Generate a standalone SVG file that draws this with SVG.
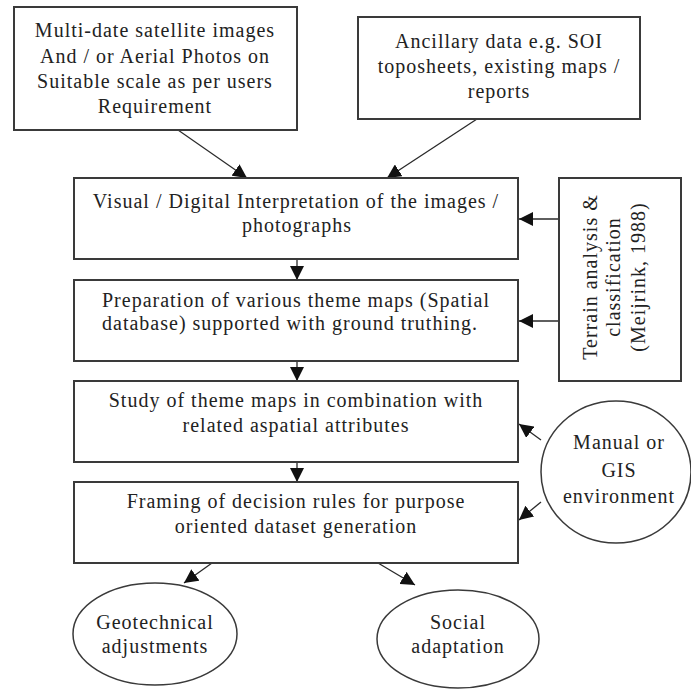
<svg xmlns="http://www.w3.org/2000/svg" width="691" height="689" viewBox="0 0 691 689">
<style>
.box{fill:#fff;stroke:#3a3a3a;stroke-width:2}
.ell{fill:#fff;stroke:#3a3a3a;stroke-width:1.5}
.t{font-family:"Liberation Serif","Times New Roman",serif;font-size:20px;letter-spacing:1px;fill:#222;text-anchor:middle}
.c{stroke:#2a2a2a;stroke-width:1.3;fill:none;marker-end:url(#ah)}
</style>
<defs>
<marker id="ah" markerUnits="userSpaceOnUse" markerWidth="16" markerHeight="14" refX="14" refY="7" orient="auto">
<path d="M0,0 L14,7 L0,14 Z" fill="#111"/>
</marker>
</defs>
<rect width="691" height="689" fill="#fff"/>
<g id="connectors">
<line class="c" x1="178" y1="130" x2="247" y2="178"/>
<line class="c" x1="477" y1="119" x2="387" y2="178"/>
<line class="c" x1="297" y1="259" x2="297" y2="280"/>
<line class="c" x1="297" y1="361" x2="297" y2="381"/>
<line class="c" x1="297" y1="462" x2="297" y2="482"/>
<line class="c" x1="559" y1="219" x2="519" y2="219"/>
<line class="c" x1="559" y1="321" x2="519" y2="321"/>
<line class="c" x1="541" y1="440" x2="519" y2="424"/>
<line class="c" x1="541" y1="502" x2="519" y2="520"/>
<line class="c" x1="212" y1="563" x2="184" y2="583"/>
<line class="c" x1="378" y1="563" x2="415" y2="585"/>
</g>
<g id="n1">
<rect class="box" x="14" y="7" width="283" height="123"/>
<text class="t" x="155" y="37">Multi-date satellite images</text>
<text class="t" x="155" y="63">And / or Aerial Photos on</text>
<text class="t" x="155" y="88">Suitable scale as per users</text>
<text class="t" x="155" y="113">Requirement</text>
</g>
<g id="n2">
<rect class="box" x="358" y="17" width="282" height="102"/>
<text class="t" x="499" y="48">Ancillary data e.g. SOI</text>
<text class="t" x="499" y="73">toposheets, existing maps /</text>
<text class="t" x="499" y="98">reports</text>
</g>
<g id="n3">
<rect class="box" x="74" y="178" width="444" height="81"/>
<text class="t" x="296" y="208">Visual / Digital Interpretation of the images /</text>
<text class="t" x="297" y="232">photographs</text>
</g>
<g id="n4">
<rect class="box" x="74" y="280" width="444" height="81"/>
<text class="t" x="296" y="307">Preparation of various theme maps (Spatial</text>
<text class="t" x="290" y="330">database) supported with ground truthing.</text>
</g>
<g id="n5">
<rect class="box" x="74" y="381" width="444" height="81"/>
<text class="t" x="296" y="407">Study of theme maps in combination with</text>
<text class="t" x="296" y="432">related aspatial attributes</text>
</g>
<g id="n6">
<rect class="box" x="74" y="482" width="444" height="81"/>
<text class="t" x="296" y="508">Framing of decision rules for purpose</text>
<text class="t" x="296" y="533">oriented dataset generation</text>
</g>
<g id="n7">
<rect class="box" x="559" y="178" width="122" height="203"/>
<g transform="translate(597,277) rotate(-90)">
<text class="t" x="0" y="0">Terrain analysis &amp;</text>
<text class="t" x="0" y="23">classification</text>
<text class="t" x="0" y="48">(Meijrink, 1988)</text>
</g>
</g>
<g id="n8">
<ellipse class="ell" cx="616" cy="472" rx="75" ry="71"/>
<text class="t" x="619" y="449">Manual or</text>
<text class="t" x="619" y="477">GIS</text>
<text class="t" x="619" y="503">environment</text>
</g>
<g id="n9">
<ellipse class="ell" cx="155" cy="634" rx="82" ry="51"/>
<text class="t" x="155" y="629">Geotechnical</text>
<text class="t" x="155" y="653">adjustments</text>
</g>
<g id="n10">
<ellipse class="ell" cx="458" cy="639" rx="81" ry="49"/>
<text class="t" x="458" y="629">Social</text>
<text class="t" x="458" y="653">adaptation</text>
</g>
</svg>
